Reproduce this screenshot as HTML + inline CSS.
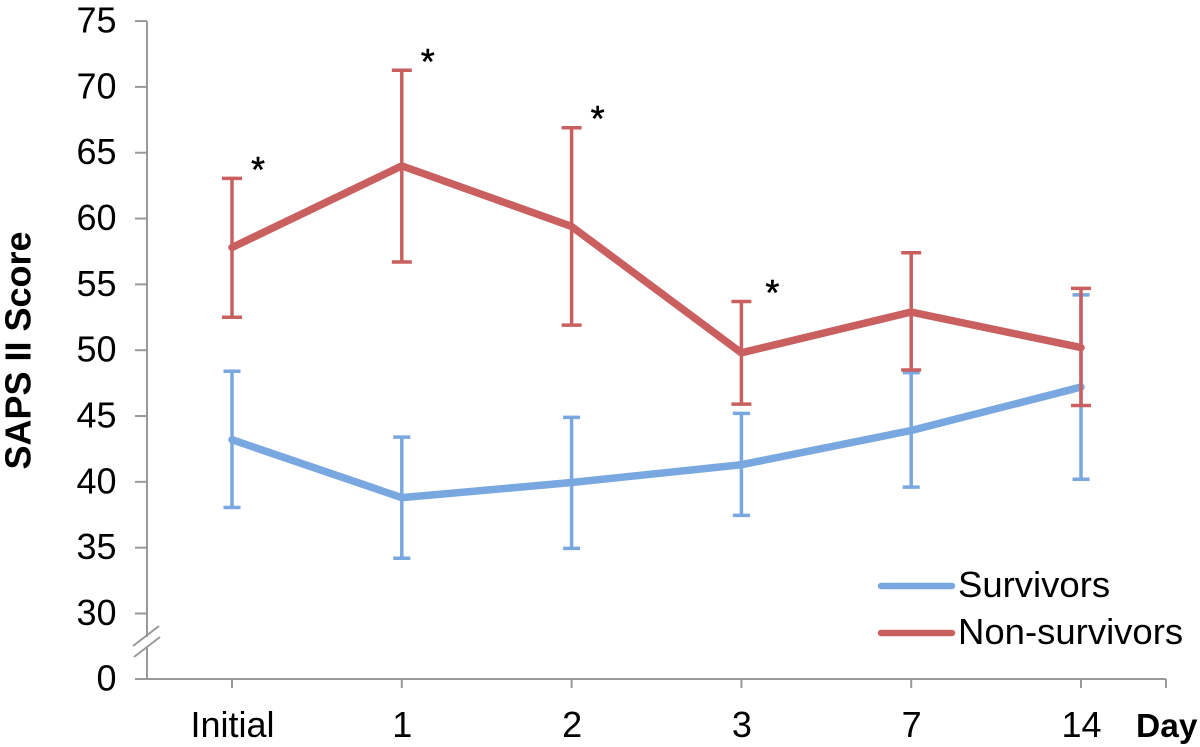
<!DOCTYPE html>
<html lang="en">
<head>
<meta charset="utf-8">
<title>SAPS II Score by Day</title>
<style>
html,body{margin:0;padding:0;background:#fff;}
svg{display:block;font-family:"Liberation Sans",Arial,sans-serif;}
</style>
</head>
<body>
<svg id="chart" xmlns="http://www.w3.org/2000/svg" width="1200" height="747" viewBox="0 0 1200 747"></svg>
<script>
const categories = ['Initial', '1', '2', '3', '7', '14'];
const yTickLabels = [0, 30, 35, 40, 45, 50, 55, 60, 65, 70, 75];
const survivorsMean = [43.2, 38.8, 39.95, 41.3, 43.9, 47.2];
const survivorsUpper = [48.4, 43.4, 44.9, 45.2, 48.3, 54.2];
const survivorsLower = [38.05, 34.2, 34.95, 37.45, 39.6, 40.2];
const nonSurvivorsMean = [57.8, 64.0, 59.4, 49.8, 52.9, 50.2];
const nonSurvivorsUpper = [63.05, 71.26, 66.9, 53.7, 57.4, 54.7];
const nonSurvivorsLower = [52.5, 56.7, 51.9, 45.9, 48.5, 45.8];
const significant = [true, true, true, true, false, false];

const NS = 'http://www.w3.org/2000/svg';
const svg = document.getElementById('chart');
const BLUE = '#79a7df';
const RED = '#c9605f';
const AXIS = '#999999';

function xScale(i) { return 232 + i * 169.8; }
function yScale(v) { return v >= 30 ? 613.5 - (v - 30) * 13.165 : 679 - v * 2.2; }

function make(tag, attrs, text) {
  const el = document.createElementNS(NS, tag);
  Object.keys(attrs).forEach(function (k) { el.setAttribute(k, attrs[k]); });
  if (text !== undefined) el.textContent = text;
  svg.appendChild(el);
  return el;
}
function seg(x1, y1, x2, y2, color, w, cap) {
  return make('line', { x1: x1, y1: y1, x2: x2, y2: y2, stroke: color, 'stroke-width': w, 'stroke-linecap': cap || 'butt' });
}

// y axis
let el = seg(147, yScale(75), 147, 637, AXIS, 2);


el = seg(147, 647, 147, 680, AXIS, 2);


el = seg(133, 646, 159, 626, AXIS, 2);


el = seg(134, 657, 160, 637, AXIS, 2);



yTickLabels.forEach(function (v) {
  const y = yScale(v);
  const tick = seg(135, y, 147, y, AXIS, 2);
  
  
  const label = make('text', { x: 116.5, y: y + 11.5, 'text-anchor': 'end', 'font-size': 36, fill: '#000' }, String(v));
  
  
});

// x axis
el = seg(135, 679, 1166, 679, AXIS, 2);


categories.forEach(function (c, i) {
  const x = xScale(i);
  const tick = seg(x, 679, x, 688, AXIS, 2);
  
  
  const label = make('text', { x: x + 0.5, y: 737, 'text-anchor': 'middle', 'font-size': 36, fill: '#000' }, c);
  
  
});
el = seg(1166, 679, 1166, 688, AXIS, 2);



// axis titles
el = make('text', { x: 0, y: 0, transform: 'translate(30.5,350.5) rotate(-90)', 'text-anchor': 'middle', 'font-size': 36, 'font-weight': 'bold', fill: '#000' }, 'SAPS II Score');


el = make('text', { x: 1136, y: 737, 'font-size': 33.5, 'font-weight': 'bold', fill: '#000' }, 'Day');



function drawSeries(mean, upper, lower, color, capHalf, nameKey) {
  mean.forEach(function (m, i) {
    const x = xScale(i);
    const bar = seg(x, yScale(upper[i]), x, yScale(lower[i]), color, 3.5);
    
    
    const capU = seg(x - capHalf, yScale(upper[i]), x + capHalf, yScale(upper[i]), color, 3.5);
    
    
    const capL = seg(x - capHalf, yScale(lower[i]), x + capHalf, yScale(lower[i]), color, 3.5);
    
    
  });
  const pts = mean.map(function (m, i) { return xScale(i) + ',' + yScale(m); }).join(' ');
  const line = make('polyline', { points: pts, fill: 'none', stroke: color, 'stroke-width': 7.5, 'stroke-linecap': 'round', 'stroke-linejoin': 'round' });
  
  
}
drawSeries(survivorsMean, survivorsUpper, survivorsLower, BLUE, 8.5, 'survivors');
drawSeries(nonSurvivorsMean, nonSurvivorsUpper, nonSurvivorsLower, RED, 10, 'non-survivors');

// significance markers
significant.forEach(function (s, i) {
  if (!s) return;
  const star = make('text', { x: xScale(i) + (i === 3 ? 31 : 26), y: yScale(nonSurvivorsUpper[i]) + 3.5, 'text-anchor': 'middle', 'font-size': 36, fill: '#000' }, '*');
  star.setAttribute('stroke', '#000');
  star.setAttribute('stroke-width', '0.5');
  
  
});

// legend
el = seg(881, 586, 952, 586, BLUE, 6.5, 'round');


el = make('text', { x: 958, y: 597, 'font-size': 36.5, fill: '#000' }, 'Survivors');


el = seg(881, 633, 952, 633, RED, 6.5, 'round');


el = make('text', { x: 958, y: 644, 'font-size': 36.5, fill: '#000' }, 'Non-survivors');


</script>
</body>
</html>
